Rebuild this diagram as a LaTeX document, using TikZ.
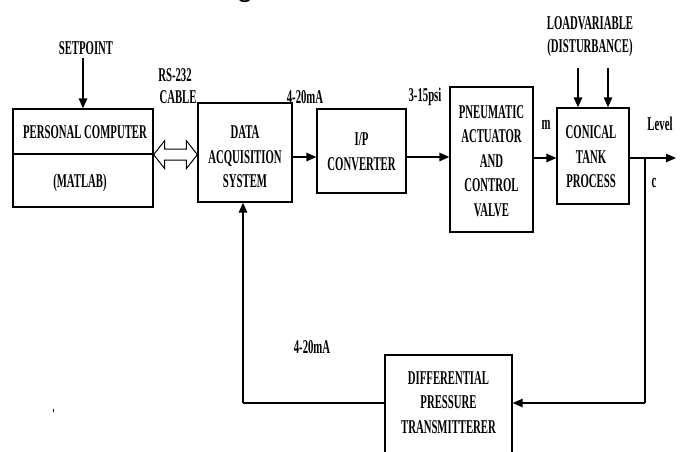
\documentclass[tikz,border=0pt]{standalone}
\usepackage{fontspec}
\setmainfont{Liberation Serif}
\newfontfamily\diagfont[FakeStretch=0.55]{Liberation Serif}
\newfontfamily\titlefont{Carlito}
\usetikzlibrary{arrows.meta,calc}
\tikzset{
  blk/.style={draw, line width=1.3pt, inner sep=0pt},
  lbl/.style={font=\diagfont\bfseries\fontsize{19.5}{24.5}\selectfont, align=center, inner sep=0pt},
  arr/.style={line width=1.3pt, -{Triangle[length=10pt,width=8.5pt]}},
  ln/.style={line width=1.3pt},
}
\begin{document}
\begin{tikzpicture}[x=1pt,y=-1pt]
\useasboundingbox (0,0) rectangle (683,452);
% cut-off title glyph
\node[font=\titlefont\fontsize{30}{30}\selectfont, anchor=base, inner sep=0pt] (ttl) at (245,-2) {g};

% Personal computer
\node[blk, minimum width=140, minimum height=45] (pctop) at (83,131.5) {};
\node[blk, minimum width=140, minimum height=53] (pcbot) at (83,180.5) {};
\node[lbl] (pctxt) at (85,132) {PERSONAL COMPUTER};
\node[lbl] (mattxt) at (80,183) {(MATLAB)};
\node[lbl] (sp) at (86,48) {SETPOINT};
\coordinate (spa) at (83,58);
\draw[arr] (spa) -- (spa |- pctop.north);

% DAQ
\node[blk, minimum width=94, minimum height=99] (daq) at (245,152.5) {};
\node[lbl] (daqtxt) at (245,157) {DATA\\ACQUISITION\\SYSTEM};
\node[lbl] (rs) at (175,75) {RS-232};
\node[lbl] (cab) at (178,97) {CABLE};

% hollow double arrow
\coordinate (dl) at (pctop.south east);
\coordinate (dr) at (daq.west |- pctop.south);
\draw[line width=1pt, fill=white]
  (dl) -- ($(dl)+(11,-14)$) -- ($(dl)+(11,-5.5)$) -- ($(dr)+(-11,-5.5)$) -- ($(dr)+(-11,-14)$)
  -- (dr) -- ($(dr)+(-11,14)$) -- ($(dr)+(-11,5.5)$) -- ($(dl)+(11,5.5)$) -- ($(dl)+(11,14)$) -- cycle;

% I/P converter
\node[blk, minimum width=89, minimum height=84] (ip) at (361.5,151) {};
\node[lbl] (iptxt) at (361.5,151.5) {I/P\\CONVERTER};
\node[lbl] (ma1) at (305,97) {4-20mA};
\coordinate (a1) at (daq.east |- 0,157);
\draw[arr] (a1) -- (ip.west |- a1);

% Pneumatic actuator
\node[blk, minimum width=83, minimum height=145] (pn) at (491.5,159.5) {};
\node[lbl] (pntxt) at (491.5,161) {PNEUMATIC\\ACTUATOR\\AND\\CONTROL\\VALVE};
\node[lbl] (psi) at (425,97) {3-15psi};
\coordinate (a2) at (ip.east |- 0,157);
\draw[arr] (a2) -- (pn.west |- a2);

% Conical tank
\node[blk, minimum width=72, minimum height=96] (ct) at (593,156) {};
\node[lbl] (cttxt) at (591,157) {CONICAL\\TANK\\PROCESS};
\node[lbl] (mm) at (546,125) {m};
\coordinate (a3) at (pn.east |- 0,158);
\draw[arr] (a3) -- (ct.west |- a3);

% load variable
\node[lbl, font=\diagfont\bfseries\fontsize{19.5}{23}\selectfont] (load) at (590,36.5) {LOADVARIABLE\\(DISTURBANCE)};
\coordinate (d1) at (578,68);
\coordinate (d2) at (608,68);
\draw[arr] (d1) -- (d1 |- ct.north);
\draw[arr] (d2) -- (d2 |- ct.north);

% output
\coordinate (a4) at (ct.east |- 0,158);
\coordinate (outend) at (676,158);
\draw[arr] (a4) -- (outend);
\node[lbl] (lev) at (660,124) {Level};
\node[lbl] (cc) at (654,183) {c};

% differential pressure transmitter
\node[blk, minimum width=127, minimum height=110] (dpt) at (448.5,410) {};
\node[lbl] (dpttxt) at (448.5,402.5) {DIFFERENTIAL\\PRESSURE\\TRANSMITTERER};
\coordinate (fbt) at (645,158);
\coordinate (fbb) at (645,403);
\draw[ln] (fbt) -- (fbb);
\draw[arr] (fbb) -- (dpt.east |- fbb);
\coordinate (fl) at (243,403);
\draw[ln] (dpt.west |- fl) -- (fl);
\draw[arr] (fl) -- (fl |- daq.south);
\node[lbl] (ma2) at (312,347) {4-20mA};

% stray mark
\fill (52.5,408.5) rectangle (54,412);
\end{tikzpicture}
\end{document}
